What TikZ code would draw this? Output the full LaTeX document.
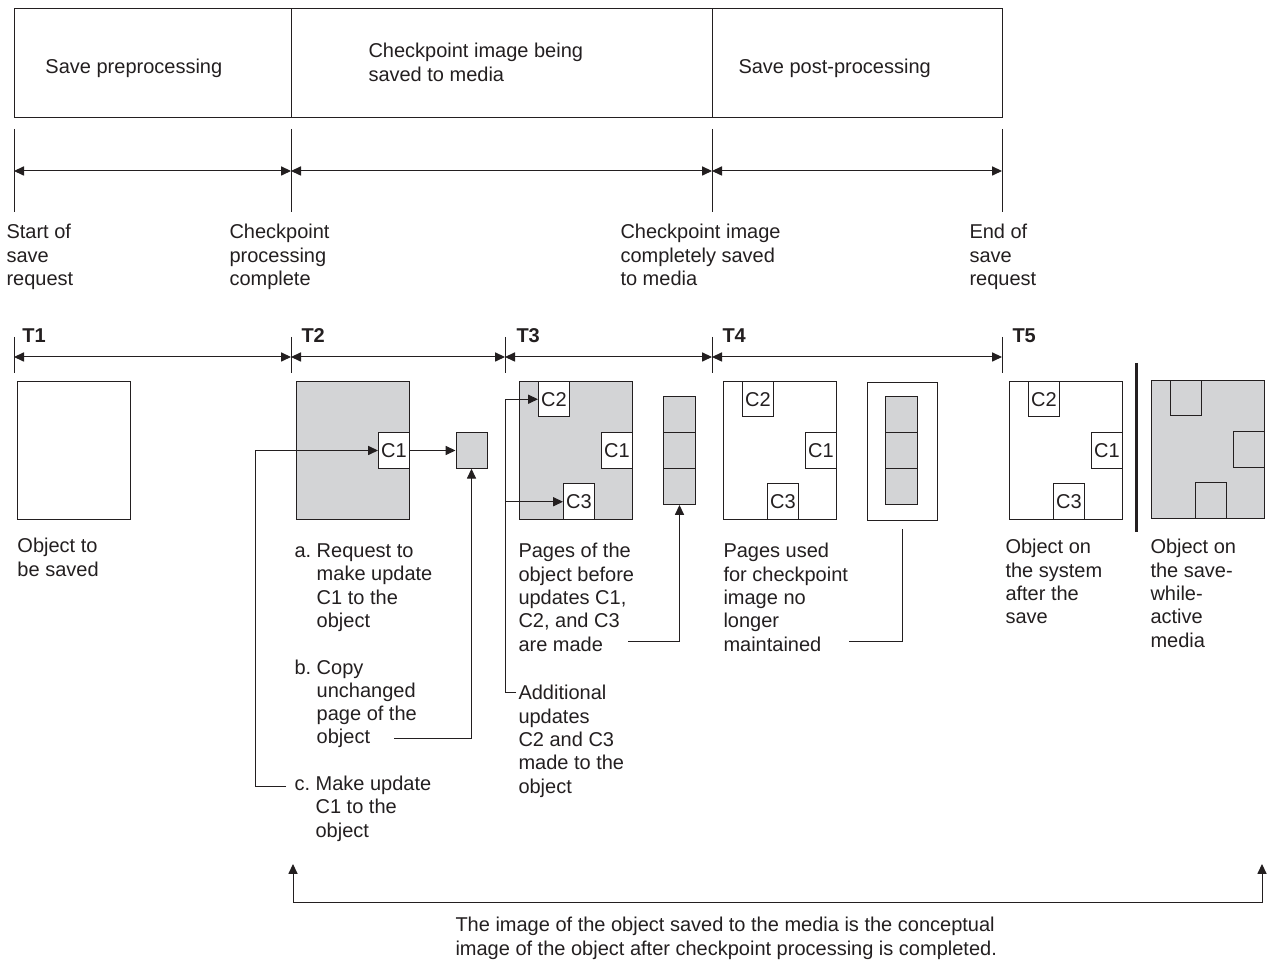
\documentclass[tikz,border=0pt]{standalone}
\usepackage{fontspec}
\setmainfont{Liberation Sans}
\usepackage{tikz}
\usetikzlibrary{positioning}
\usetikzlibrary{arrows.meta}

\definecolor{ink}{RGB}{35,31,32}
\definecolor{pagegrey}{RGB}{211,212,214}

\begin{document}
\begin{tikzpicture}[x=0.5pt, y=-0.5pt, line width=0.5pt, color=ink,
        >={Triangle[length=5pt,width=4.6pt]},
        lbl/.style={anchor=north west, inner sep=0pt, align=left, font=\fontsize{10pt}{11.65pt}\selectfont},
        tlbl/.style={lbl, font=\fontsize{10pt}{11.65pt}\selectfont\bfseries},
        phase/.style={draw, anchor=north west, minimum height=54.5pt, inner sep=0pt},
        page/.style={draw, fill=white, anchor=north west, minimum width=56.5pt, minimum height=69pt, inner sep=0pt},
        greypage/.style={page, fill=pagegrey},
        cell/.style={draw, fill=white, minimum width=15.5pt, minimum height=17.75pt, inner sep=0pt, font=\fontsize{10pt}{11.65pt}\selectfont},
        greycell/.style={cell, fill=pagegrey},
        slot/.style={draw, fill=pagegrey, anchor=north west, minimum width=16pt, minimum height=18pt, inner sep=0pt}]
        \useasboundingbox (0,0) rectangle (1271,961);

        % phases of the save
        \node[phase, minimum width=138.5pt] (pre) at (14,8) {};
        \node[phase, minimum width=210.5pt] (image) at (291,8) {};
        \node[phase, minimum width=145pt] (post) at (712,8) {};
        \node[lbl] (pretxt) at (45,59) {Save preprocessing};
        \node[lbl] (imagetxt) at (368,43) {Checkpoint image being\\saved to media};
        \node[lbl] (posttxt) at (738,59) {Save post-processing};

        % upper time line
        \coordinate (start) at (14,171);
        \coordinate (chk) at (291,171);
        \coordinate (saved) at (712,171);
        \coordinate (end) at (1002,171);
        \draw (start) ++(0,-42) -- ++(0,83);
        \draw (chk) ++(0,-42) -- ++(0,83);
        \draw (saved) ++(0,-42) -- ++(0,83);
        \draw (end) ++(0,-42) -- ++(0,83);
        \draw[<->] (start) -- (chk);
        \draw[<->] (chk) -- (saved);
        \draw[<->] (saved) -- (end);
        \node[lbl] (starttxt) at (6,224) {Start of\\save\\request};
        \node[lbl] (chktxt) at (229,224) {Checkpoint\\processing\\complete};
        \node[lbl] (savedtxt) at (620,224) {Checkpoint image\\completely saved\\to media};
        \node[lbl] (endtxt) at (969,224) {End of\\save\\request};

        % time steps
        \coordinate (t1) at (14,357);
        \coordinate (t2) at (291,357);
        \coordinate (t3) at (505,357);
        \coordinate (t4) at (712,357);
        \coordinate (t5) at (1002,357);
        \draw (t1) ++(0,-20) -- ++(0,36);
        \draw (t2) ++(0,-20) -- ++(0,36);
        \draw (t3) ++(0,-20) -- ++(0,36);
        \draw (t4) ++(0,-20) -- ++(0,36);
        \draw (t5) ++(0,-20) -- ++(0,36);
        \draw[<->] (t1) -- (t2);
        \draw[<->] (t2) -- (t3);
        \draw[<->] (t3) -- (t4);
        \draw[<->] (t4) -- (t5);
        \node[tlbl] (t1txt) at (22,328) {T1};
        \node[tlbl] (t2txt) at (301,328) {T2};
        \node[tlbl] (t3txt) at (516,328) {T3};
        \node[tlbl] (t4txt) at (722,328) {T4};
        \node[tlbl] (t5txt) at (1012,328) {T5};

        % T1
        \node[page] (obj1) at (17,381) {};
        \node[lbl] (obj1txt) at (17,538) {Object to\\be saved};

        % T2
        \node[greypage] (obj2) at (296,381) {};
        \node[cell, anchor=east] (c1b) at (obj2.east) {C1};
        \node[greycell] (copy) at (471.5,450.5) {};
        \draw[->] (c1b) -- (copy);
        \node[lbl] (stepa) at (294,540.7) {\begin{tabular}{@{}l@{\ }l@{}}a. & Request to\\ & make update\\ & C1 to the\\ & object\end{tabular}};
        \node[lbl] (stepb) at (294,657.2) {\begin{tabular}{@{}l@{\ }l@{}}b. & Copy\\ & unchanged\\ & page of the\\ & object\end{tabular}};
        \node[lbl] (stepc) at (294,773.7) {\begin{tabular}{@{}l@{\ }l@{}}c. & Make update\\ & C1 to the\\ & object\end{tabular}};
        \coordinate (bfoot) at (394,739);
        \coordinate (cfoot) at (286,787);
        \draw[->] (bfoot) -| (copy.south);
        \draw[->] (cfoot) -- ++(-31,0) |- (c1b.west);

        % T3
        \node[greypage] (obj3) at (519,381) {};
        \node[cell, anchor=north west] (c2c) at ([xshift=9.5pt]obj3.north west) {C2};
        \node[cell, anchor=east] (c1c) at (obj3.east) {C1};
        \node[cell, anchor=south west] (c3c) at ([xshift=22pt]obj3.south west) {C3};
        \node[slot] (sa1) at (663,396) {};
        \node[slot] (sa2) at (663,432) {};
        \node[slot] (sa3) at (663,468) {};
        \node[lbl] (beforetxt) at (518,543) {Pages of the\\object before\\updates C1,\\C2, and C3\\are made};
        \node[lbl] (addtxt) at (518,685) {Additional\\updates\\C2 and C3\\made to the\\object};
        \coordinate (madefoot) at (628,642);
        \coordinate (addfoot) at (516,693);
        \coordinate (addbend) at (505,693);
        \draw[->] (madefoot) -| (sa3.south);
        \draw[->] (addfoot) -- (addbend) |- (c2c.west);
        \draw[->] (addbend |- c3c.west) -- (c3c.west);

        % T4
        \node[page] (obj4) at (723,381) {};
        \node[cell, anchor=north west] (c2d) at ([xshift=9.5pt]obj4.north west) {C2};
        \node[cell, anchor=east] (c1d) at (obj4.east) {C1};
        \node[cell, anchor=south west] (c3d) at ([xshift=22pt]obj4.south west) {C3};
        \node[page, minimum width=35pt] (keep) at (867,382) {};
        \node[slot] (sb1) at (885,396) {};
        \node[slot] (sb2) at (885,432) {};
        \node[slot] (sb3) at (885,468) {};
        \node[lbl] (usedtxt) at (723,543) {Pages used\\for checkpoint\\image no\\longer\\maintained};
        \coordinate (usedfoot) at (849,642);
        \draw (usedfoot) -| ([yshift=-4pt]keep.south);

        % T5
        \node[page] (obj5) at (1009,381) {};
        \node[cell, anchor=north west] (c2e) at ([xshift=9.5pt]obj5.north west) {C2};
        \node[cell, anchor=east] (c1e) at (obj5.east) {C1};
        \node[cell, anchor=south west] (c3e) at ([xshift=22pt]obj5.south west) {C3};
        \draw[line width=1.5pt] (1136,363) -- (1136,532);
        \node[greypage] (media) at (1151,380) {};
        \node[greycell, anchor=north west] (m2) at ([xshift=9.5pt]media.north west) {};
        \node[greycell, anchor=east] (m1) at (media.east) {};
        \node[greycell, anchor=south west] (m3) at ([xshift=22pt]media.south west) {};
        \node[lbl] (systxt) at (1005,539) {Object on\\the system\\after the\\save};
        \node[lbl] (mediatxt) at (1150,539) {Object on\\the save-\\while-\\active\\media};

        % conceptual image
        \coordinate (notel) at (293,864);
        \coordinate (noter) at (1262,864);
        \draw[<->] (notel) -- ++(0,39) -| (noter);
        \node[lbl] (notetxt) at (455,917) {The image of the object saved to the media is the conceptual\\image of the object after checkpoint processing is completed.};
\end{tikzpicture}
\end{document}
